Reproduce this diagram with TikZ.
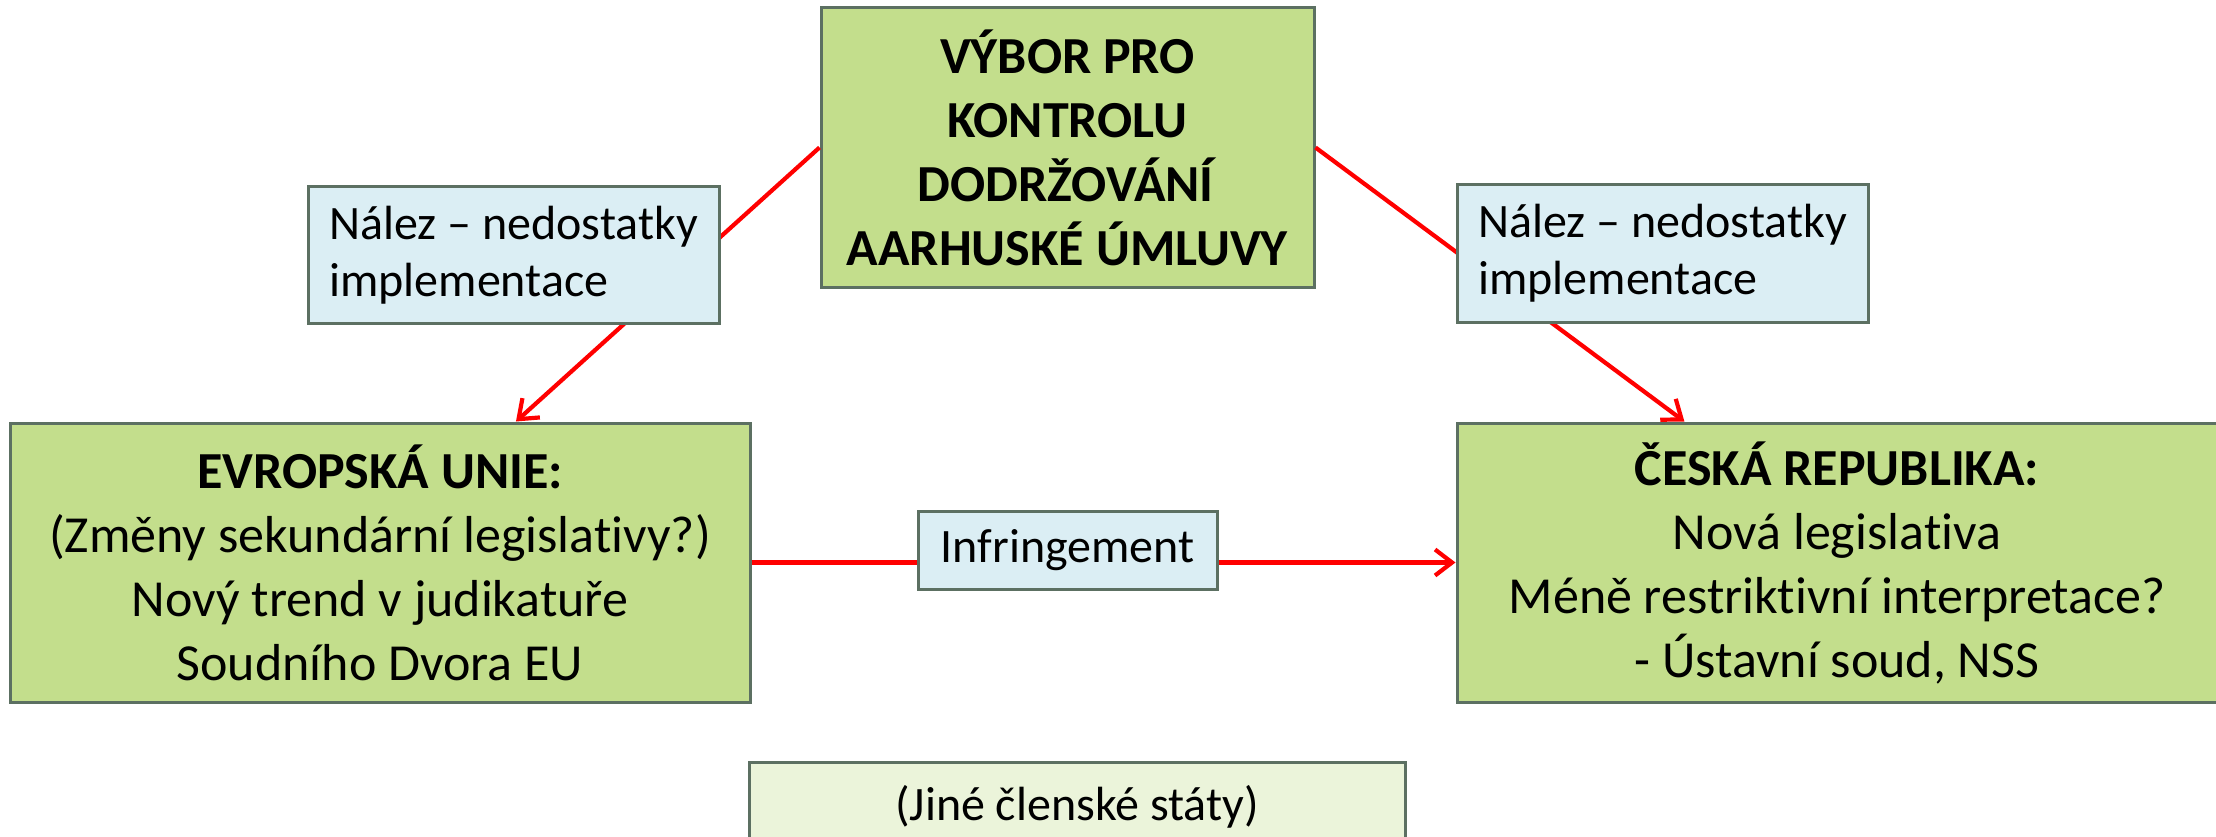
\documentclass[tikz,border=0pt]{standalone}
\usepackage{fontspec}
\setmainfont[Ligatures={NoCommon}]{Carlito}
\usetikzlibrary{arrows.meta,calc}
\definecolor{boxgreen}{RGB}{195,222,140}
\definecolor{lblue}{RGB}{219,238,244}
\definecolor{lgreen}{RGB}{235,244,218}
\definecolor{bord}{RGB}{92,112,98}
\begin{document}
\begin{tikzpicture}[x=1pt,y=-1pt,
  bigbox/.style={draw=bord,line width=3pt,fill=boxgreen,rectangle,inner sep=0pt,align=center,
    font=\fontsize{52}{64}\selectfont},
  lblbox/.style={draw=bord,line width=3pt,fill=lblue,rectangle,inner sep=0pt,
    font=\fontsize{48}{57}\selectfont},
  otherbox/.style={draw=bord,line width=3pt,fill=lgreen,rectangle,inner sep=0pt,align=center,
    font=\fontsize{48}{57}\selectfont},
  conn/.style={draw=red,line width=4.2pt,-{Straight Barb[length=17pt,width=26pt,line width=4.2pt]}}
]
\useasboundingbox (0,0) rectangle (2216,837);
\clip (0,0) rectangle (2216,837);

\node[bigbox,minimum width=493pt,minimum height=279pt] (top) at (1067.5,147.5)
  {\textbf{VÝBOR PRO}\\\textbf{KONTROLU}\\\textbf{DODRŽOVÁNÍ}\\\textbf{AARHUSKÉ ÚMLUVY}};

\node[bigbox,minimum width=740pt,minimum height=279pt] (eu) at (380,562.5)
  {\textbf{EVROPSKÁ UNIE:}\\(Změny sekundární legislativy?)\\Nový trend v judikatuře\\Soudního Dvora EU};

\node[bigbox,minimum width=760pt,minimum height=279pt] (cr) at (1837,562.5)
  {\textbf{ČESKÁ REPUBLIKA:}\\Nová legislativa\\Méně restriktivní interpretace?\\- Ústavní soud, NSS};

\node[otherbox,minimum width=656pt,minimum height=90pt] (other) at (1077,807)
  {(Jiné členské státy)};

\coordinate (euin) at ($(eu.north west)!0.683!(eu.north east)$);
\coordinate (crin) at ($(cr.north west)!0.30!(cr.north east)$);

\draw[conn] (top.west) -- (euin);
\draw[conn] (top.east) -- (crin);
\draw[conn] (eu.east) -- (cr.west);

\node[lblbox,minimum width=411pt,minimum height=136pt,align=left] (lblL) at (513.5,255)
  {Nález – nedostatky\\implementace};
\node[lblbox,minimum width=411pt,minimum height=137pt,align=left] (lblR) at (1662.5,253.5)
  {Nález – nedostatky\\implementace};
\node[lblbox,minimum width=299pt,minimum height=78pt,align=center] (infr) at (1067.5,550)
  {Infringement};
\end{tikzpicture}
\end{document}
